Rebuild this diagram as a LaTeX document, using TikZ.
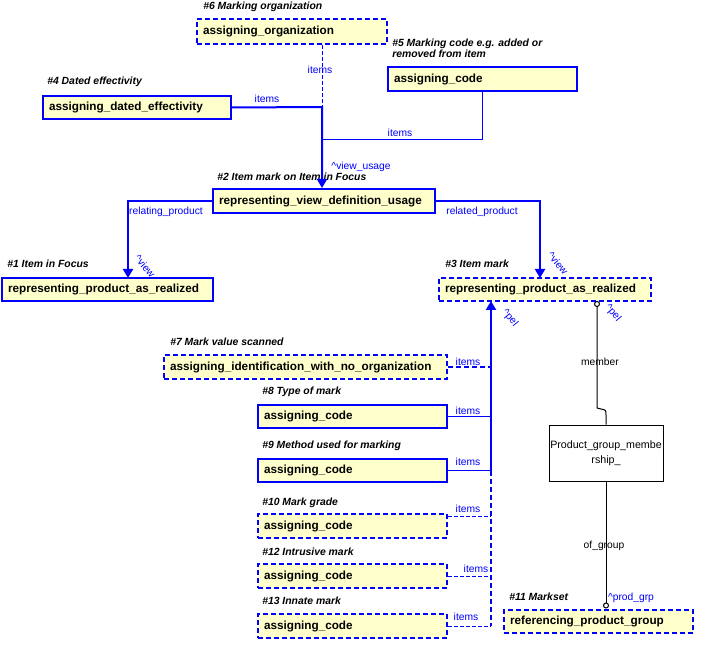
\documentclass[tikz,border=0pt]{standalone}
\usepackage{fontspec}
\setmainfont{Liberation Sans}
\usetikzlibrary{arrows.meta,calc}
\definecolor{eblue}{RGB}{0,0,255}
\definecolor{efill}{RGB}{255,255,204}
\begin{document}
\begin{tikzpicture}[x=0.75pt,y=-0.75pt,
  box/.style={draw=eblue, fill=efill, line width=1.5pt, inner xsep=4.5pt, inner ysep=0pt, anchor=west, align=left, font=\fontsize{8.8}{10}\selectfont\bfseries},
  dbox/.style={box, dash pattern=on 3.75pt off 2.25pt},
  hd/.style={anchor=west, inner sep=0pt, align=left, font=\fontsize{7.8}{8.25}\selectfont\bfseries\itshape},
  rl/.style={text=eblue, inner sep=0pt, font=\fontsize{7.7}{9}\selectfont},
  bl/.style={text=black, inner sep=0pt, font=\fontsize{7.7}{9}\selectfont},
  thk/.style={draw=eblue, line width=1.5pt},
  thn/.style={draw=eblue, line width=0.75pt},
  thkd/.style={thk, dash pattern=on 3.75pt off 2.25pt},
  thnd/.style={thn, dash pattern=on 3pt off 1.5pt},
  tip/.style={-{Triangle[length=6.75pt,width=7.5pt]}},
  blk/.style={draw=black, line width=0.75pt}
]
\useasboundingbox (0,0) rectangle (710,648);

% boxes
\node[dbox, text width=133.5pt, minimum height=18.75pt] (org) at (196,31.5) {assigning\_organization};
\node[box, text width=132pt, minimum height=17.25pt] (dated) at (42,107.5) {assigning\_dated\_effectivity};
\node[box, text width=132.75pt, minimum height=18pt] (code5) at (387,79) {assigning\_code};
\node[box, text width=157.5pt, minimum height=18pt] (vdu) at (212,201) {representing\_view\_definition\_usage};
\node[box, text width=149.25pt, minimum height=17.25pt] (pr1) at (1,289.5) {representing\_product\_as\_realized};
\node[dbox, text width=150pt, minimum height=17.25pt] (pr3) at (438,289.5) {representing\_product\_as\_realized};
\node[dbox, text width=203.25pt, minimum height=18pt] (aiwno) at (163,367) {assigning\_identification\_with\_no\_organization};
\node[box, text width=132.75pt, minimum height=17.25pt] (c8) at (257,416.5) {assigning\_code};
\node[box, text width=132.75pt, minimum height=17.25pt] (c9) at (257,470.5) {assigning\_code};
\node[dbox, text width=132.75pt, minimum height=18pt] (c10) at (257,526) {assigning\_code};
\node[dbox, text width=132.75pt, minimum height=18pt] (c12) at (257,576) {assigning\_code};
\node[dbox, text width=132.75pt, minimum height=18pt] (c13) at (257,626) {assigning\_code};
\node[dbox, text width=132.75pt, minimum height=17.25pt] (rpg) at (503,621.5) {referencing\_product\_group};
\node[draw=black, fill=white, line width=0.75pt, minimum width=85.5pt, minimum height=42pt, inner sep=0pt, align=center, font=\fontsize{8}{11}\selectfont] (pgm) at (606,453) {Product\_group\_membe\\rship\_};

% headings
\node[hd] (h6) at (203,7) {\#6 Marking organization};
\node[hd] (h5) at (392,48.5) {\#5 Marking code e.g. added or\\removed from item};
\node[hd] (h4) at (47,82) {\#4 Dated effectivity};
\node[hd] (h2) at (217,177) {\#2 Item mark on Item in Focus};
\node[hd] (h1) at (7,264) {\#1 Item in Focus};
\node[hd] (h3) at (445,264) {\#3 Item mark};
\node[hd] (h7) at (170,342) {\#7 Mark value scanned};
\node[hd] (h8) at (262,392) {\#8 Type of mark};
\node[hd] (h9) at (262,446) {\#9 Method used for marking};
\node[hd] (h10) at (262,503) {\#10 Mark grade};
\node[hd] (h12) at (262,552) {\#12 Intrusive mark};
\node[hd] (h13) at (262,601) {\#13 Innate mark};
\node[hd] (h11) at (509,597) {\#11 Markset};

% junction coordinates
\coordinate (j1) at (322,107);
\coordinate (j2) at (322,140);
\coordinate (a1) at (128,278);
\coordinate (a3) at (540,278);
\coordinate (b) at (491,301);
\coordinate (m) at (597,301);

% connectors top
\draw[thnd] (j1 |- org.south) -- (j1);
\draw[thk, tip] (dated.east) -- (j1) -- (j1 |- vdu.north);
\draw[thn] (code5.south) -- (code5.south |- j2) -- (j2);
\draw[thk, tip] (vdu.west) -| (a1);
\draw[thk, tip] (vdu.east) -| (a3);

% big vertical
\draw[thk, tip] (b |- c9.east) -- (b);
\draw[thkd] (b |- c9.east) -- (b |- c13.east);
\draw[thkd] (aiwno.east) -- (aiwno.east -| b);
\draw[thn] (c8.east) -- (c8.east -| b);
\draw[thn] (c9.east) -- (c9.east -| b);
\draw[thnd] ($(c10.north east)+(0,3)$) -- ($(c10.north east -| b)+(0,3)$);
\draw[thnd] (c12.east) -- (c12.east -| b);
\draw[thnd] (c13.east) -- (c13.east -| b);

% black member / of_group
\draw[blk] (597,304) circle[radius=2.5];
\draw[blk] (597,306.5) -- (597,408) -- (601,409) .. controls (606,410) .. (606,415) -- (pgm.north);
\draw[blk] (606,605.5) circle[radius=2.5];
\draw[blk] (pgm.south) -- (606,603);

% labels
\node[rl] (l1) at (320,70) {items};
\node[rl] (l2) at (267,99) {items};
\node[rl] (l3) at (400,133) {items};
\node[rl] (l4) at (361,167) {\^{}view\_usage};
\node[rl] (l5) at (166,212) {relating\_product};
\node[rl] (l6) at (482,212) {related\_product};
\node[rl, rotate=-50] (l7) at (145,266) {\^{}view};
\node[rl, rotate=-50] (l8) at (558,263) {\^{}view};
\node[rl, rotate=-50] (l9) at (510,318) {\^{}pel};
\node[rl, rotate=-50] (l10) at (613,313) {\^{}pel};
\node[rl] (l11) at (468,362) {items};
\node[rl] (l12) at (468,411) {items};
\node[rl] (l13) at (468,462) {items};
\node[rl] (l14) at (468,509) {items};
\node[rl] (l15) at (476,569) {items};
\node[rl] (l16) at (466,617) {items};
\node[bl] (l17) at (600,362) {member};
\node[bl] (l18) at (604,546) {of\_group};
\node[rl] (l19) at (631,598) {\^{}prod\_grp};
\end{tikzpicture}
\end{document}
